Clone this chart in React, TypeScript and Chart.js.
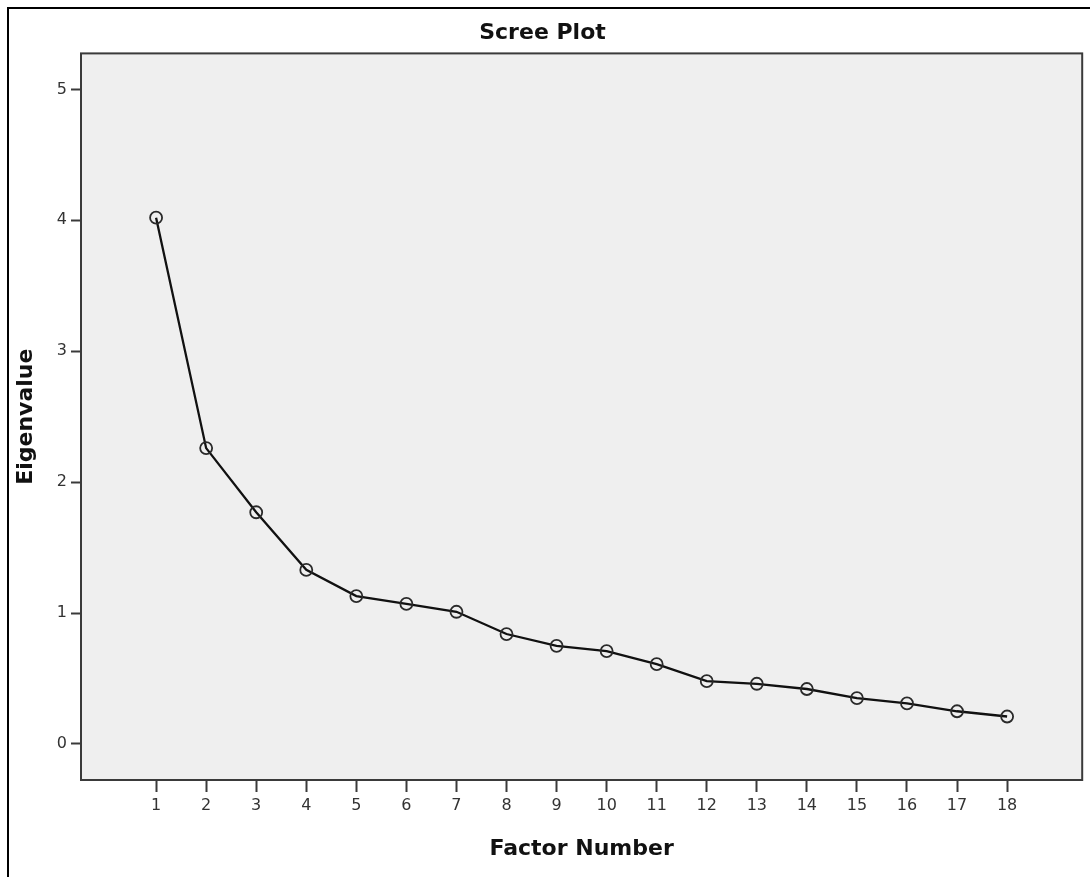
import React, { useEffect, useRef } from "react";
import { Chart, registerables } from "chart.js";

Chart.register(...registerables);

const factorNumbers = [1, 2, 3, 4, 5, 6, 7, 8, 9, 10, 11, 12, 13, 14, 15, 16, 17, 18];
const eigenvalues = [4.02, 2.26, 1.77, 1.33, 1.13, 1.07, 1.01, 0.84, 0.75, 0.71, 0.61, 0.48, 0.46, 0.42, 0.35, 0.31, 0.25, 0.21];
const yTickValues = [0, 1, 2, 3, 4, 5];
const chartTitle = "Scree Plot";
const xAxisTitle = "Factor Number";
const yAxisTitle = "Eigenvalue";

const FONT = '"DejaVu Sans", "Lucida Grande", sans-serif';

const framePlugin = {
  id: "sppsFrame",
  beforeDraw(chart: any) {
    const { ctx, chartArea: a, width, height } = chart;
    ctx.save();
    ctx.fillStyle = "#ffffff";
    ctx.fillRect(0, 0, width, height);
    ctx.fillStyle = "#efefef";
    ctx.fillRect(a.left, a.top, a.right - a.left, a.bottom - a.top);
    ctx.strokeStyle = "#000000";
    ctx.lineWidth = 2;
    ctx.beginPath();
    ctx.moveTo(8, height);
    ctx.lineTo(8, 8);
    ctx.lineTo(width, 8);
    ctx.stroke();
    ctx.restore();
  },
  afterDraw(chart: any) {
    const { ctx, chartArea: a } = chart;
    ctx.save();
    ctx.strokeStyle = "#3a3a3a";
    ctx.lineWidth = 2;
    ctx.strokeRect(a.left, a.top, a.right - a.left, a.bottom - a.top);
    ctx.restore();
  },
};

export default function App() {
  const ref = useRef<HTMLCanvasElement | null>(null);

  useEffect(() => {
    if (!ref.current) return;
    const chart = new Chart(ref.current, {
      type: "line",
      data: {
        datasets: [
          {
            data: factorNumbers.map((f, i) => ({ x: f, y: eigenvalues[i] })),
            borderColor: "#111111",
            borderWidth: 2.3,
            pointStyle: "circle",
            pointRadius: 6,
            pointBorderWidth: 1.8,
            pointBorderColor: "#2a2a2a",
            pointBackgroundColor: "rgba(0,0,0,0)",
            tension: 0,
            fill: false,
          },
        ],
      },
      options: {
        animation: false,
        responsive: false,
        devicePixelRatio: 1,
        layout: { padding: { top: 8, right: 5, bottom: 0, left: 0 } },
        plugins: {
          legend: { display: false },
          tooltip: { enabled: false },
          title: {
            display: true,
            text: chartTitle,
            color: "#111111",
            font: { family: FONT, size: 22, weight: "bold", lineHeight: 1.2 },
            padding: { top: 12, bottom: 7 },
          },
        },
        scales: {
          x: {
            type: "linear",
            min: -0.5,
            max: 19.5,
            afterBuildTicks: (s: any) => {
              s.ticks = factorNumbers.map((v) => ({ value: v }));
            },
            afterFit: (s: any) => {
              s.height = 97;
            },
            grid: {
              drawOnChartArea: false,
              drawTicks: true,
              tickLength: 12,
              tickWidth: 2,
              tickColor: "#3a3a3a",
            },
            border: { display: false },
            ticks: {
              autoSkip: false,
              maxRotation: 0,
              padding: 4,
              color: "#333333",
              font: { family: FONT, size: 16 },
              callback: (v: any) => String(v),
            },
            title: {
              display: true,
              text: xAxisTitle,
              color: "#111111",
              font: { family: FONT, size: 22, weight: "bold", lineHeight: 1.2 },
              padding: { top: 0, bottom: 15 },
            },
          },
          y: {
            type: "linear",
            min: -0.275,
            max: 5.275,
            afterBuildTicks: (s: any) => {
              s.ticks = yTickValues.map((v) => ({ value: v }));
            },
            afterFit: (s: any) => {
              s.width = 81;
            },
            grid: {
              drawOnChartArea: false,
              drawTicks: true,
              tickLength: 10,
              tickWidth: 2,
              tickColor: "#3a3a3a",
            },
            border: { display: false },
            ticks: {
              padding: 4,
              color: "#333333",
              font: { family: FONT, size: 16 },
              callback: (v: any) => String(v),
            },
            title: {
              display: true,
              text: yAxisTitle,
              color: "#111111",
              font: { family: FONT, size: 22, weight: "bold", lineHeight: 1.2 },
              padding: { top: 13, bottom: 0 },
            },
          },
        },
      },
      plugins: [framePlugin],
    } as any);
    return () => chart.destroy();
  }, []);

  return (
    <div style={{ position: "fixed", left: 0, top: 0, width: 1090, height: 877 }}>
      <canvas ref={ref} width={1090} height={877} style={{ width: 1090, height: 877, display: "block" }} />
    </div>
  );
}
